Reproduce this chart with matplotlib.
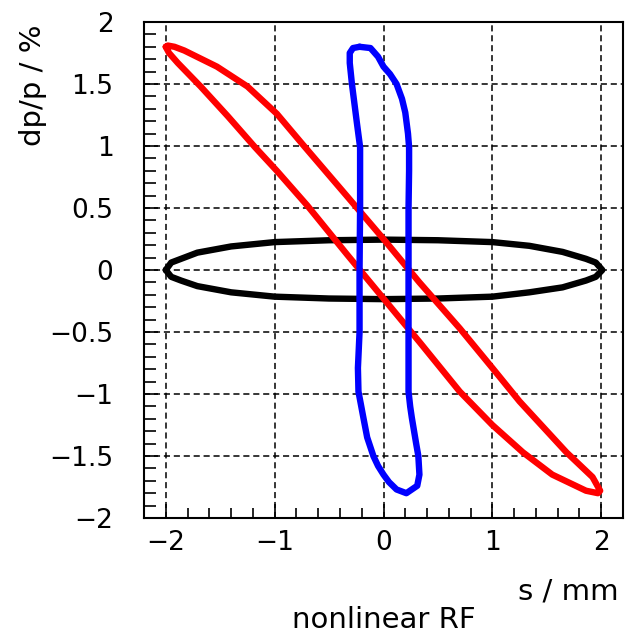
import matplotlib
matplotlib.use('Agg')

import matplotlib.pyplot as plt
from matplotlib.ticker import MultipleLocator

# contour points (s in mm, dp/p in %)
black_s = [-2.00, -1.95, -1.86, -1.71, -1.40, -1.00, -0.50, 0.00, 0.50, 1.00, 1.34, 1.645, 1.86, 1.95, 2.01,
           1.95, 1.86, 1.645, 1.34, 1.00, 0.50, 0.00, -0.50, -1.00, -1.40, -1.71, -1.86, -1.95, -2.00]
black_dp = [0.00, 0.06, 0.09, 0.14, 0.19, 0.225, 0.24, 0.245, 0.24, 0.225, 0.195, 0.146, 0.09, 0.06, 0.00,
            -0.055, -0.085, -0.14, -0.18, -0.215, -0.23, -0.235, -0.23, -0.215, -0.18, -0.13, -0.085, -0.055, 0.00]

red_s = [-2.00, -1.98, -1.92, -1.83, -1.53, -1.25, -0.98, -0.73, -0.34, 0.00, 0.33, 0.70, 1.00, 1.25, 1.68, 1.92, 1.99,
         1.97, 1.86, 1.55, 1.28, 1.00, 0.70, 0.33, 0.00, -0.33, -0.70, -0.98, -1.18, -1.43, -1.68, -1.89, -1.97, -2.00]
red_dp = [1.80, 1.81, 1.80, 1.77, 1.64, 1.48, 1.26, 1.00, 0.60, 0.25, -0.10, -0.47, -0.79, -1.06, -1.47, -1.67, -1.78,
          -1.80, -1.78, -1.65, -1.47, -1.25, -0.98, -0.58, -0.23, 0.12, 0.52, 0.80, 0.99, 1.24, 1.48, 1.67, 1.75, 1.80]

blue_s = [-0.22, -0.12, -0.05, 0.00, 0.06, 0.12, 0.17, 0.20, 0.225, 0.235, 0.235, 0.23, 0.23, 0.23, 0.23,
          0.245, 0.26, 0.30, 0.32, 0.33, 0.31, 0.21, 0.12, 0.05, 0.00, -0.05, -0.093, -0.15, -0.185, -0.23,
          -0.235, -0.22, -0.22, -0.215, -0.215, -0.245, -0.29, -0.31, -0.31, -0.28, -0.22]
blue_dp = [1.80, 1.79, 1.72, 1.64, 1.58, 1.50, 1.38, 1.27, 1.10, 0.99, 0.80, 0.50, 0.00, -0.50, -0.98,
           -1.10, -1.19, -1.40, -1.50, -1.65, -1.74, -1.80, -1.77, -1.71, -1.65, -1.58, -1.50, -1.35, -1.19, -0.98,
           -0.79, -0.50, 0.00, 0.50, 0.99, 1.19, 1.50, 1.67, 1.75, 1.79, 1.80]

x_ticks = [-2, -1, 0, 1, 2]
y_ticks = [-2, -1.5, -1, -0.5, 0, 0.5, 1, 1.5, 2]
y_tick_labels = ['\u22122', '\u22121.5', '\u22121', '\u22120.5', '0', '0.5', '1', '1.5', '2']

plt.rcParams['font.family'] = ['DejaVu Sans']

fig = plt.figure(figsize=(6.27, 6.35), dpi=100)
ax = fig.add_axes([144 / 627, 1 - 518 / 635, (623 - 144) / 627, (518 - 22) / 635])

lw = 4.6
ax.plot(black_s, black_dp, color='black', lw=lw, solid_joinstyle='round', solid_capstyle='round', zorder=3)
ax.plot(red_s, red_dp, color='#ff0000', lw=lw, solid_joinstyle='round', solid_capstyle='round', zorder=4)
ax.plot(blue_s, blue_dp, color='#0000ff', lw=lw, solid_joinstyle='round', solid_capstyle='round', zorder=5)

ax.set_xlim(-2.2, 2.2)
ax.set_ylim(-2, 2)
ax.set_xticks(x_ticks)
ax.set_yticks(y_ticks)
ax.set_yticklabels(y_tick_labels)
ax.xaxis.set_minor_locator(MultipleLocator(0.2))
ax.yaxis.set_minor_locator(MultipleLocator(0.1))

ax.grid(True, which='major', color='black', lw=1.1, linestyle=(0, (4, 2.5)))

ax.tick_params(axis='both', which='both', direction='in', top=False, right=False,
               width=1.2, labelsize=19, colors='black')
ax.tick_params(axis='y', which='major', length=10, pad=22)
ax.tick_params(axis='y', which='minor', length=8.5)
ax.tick_params(axis='x', which='major', length=10, pad=9)
ax.tick_params(axis='x', which='minor', length=7)

for sp in ax.spines.values():
    sp.set_linewidth(1.5)

fig.text(619 / 627, 1 - 592 / 635, 's / mm', ha='right', va='center', fontsize=21)
fig.text(33 / 627, 1 - 24 / 635, 'dp/p / %', ha='center', va='top', rotation=90, fontsize=21)
fig.text(384 / 627, 1 - 620 / 635, 'nonlinear RF', ha='center', va='center', fontsize=21)

fig.savefig('out.png', dpi=100, facecolor='white')
